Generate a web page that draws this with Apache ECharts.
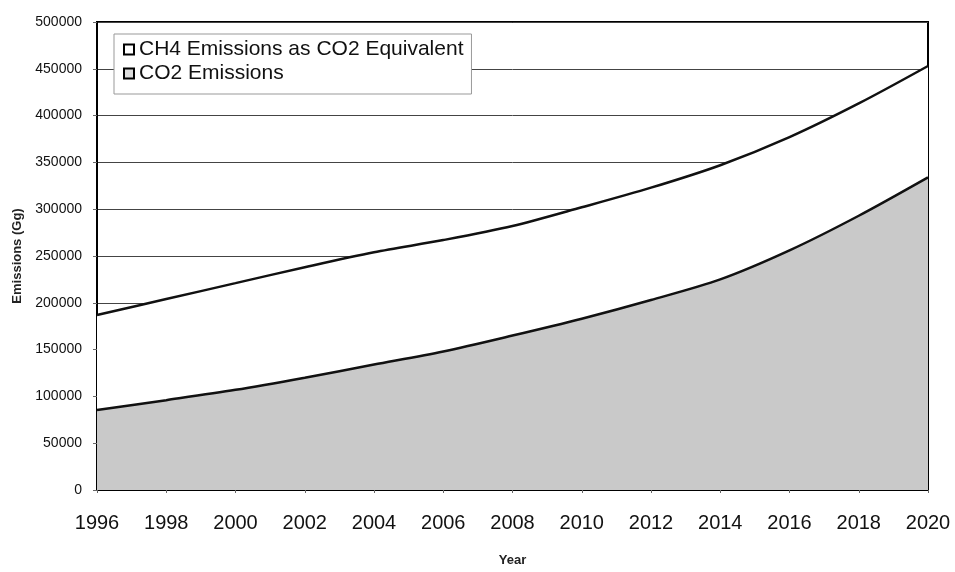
<!DOCTYPE html>
<html>
<head>
<meta charset="utf-8">
<script src="https://cdn.jsdelivr.net/npm/echarts@6/dist/echarts.min.js"></script>
<style>
html,body{margin:0;padding:0;background:#fff;}
#c{width:955px;height:572px;}
</style>
</head>
<body>
<div id="c"></div>
<script>
const years = ['1996','1998','2000','2002','2004','2006','2008','2010','2012','2014','2016','2018','2020'];
const co2Emissions = [85500, 96000, 107000, 120000, 134000, 148000, 165000, 183000, 203000, 225000, 256000, 293000, 334000];
const ch4AsCo2Eq = [101500, 108000, 114000, 118000, 120000, 119000, 117000, 119000, 120000, 122000, 121000, 120000, 119000];
const seriesNames = ['CH4 Emissions as CO2 Equivalent', 'CO2 Emissions'];

const FONT = 'Liberation Sans, Arial, sans-serif';
const chart = echarts.init(document.getElementById('c'), null, {renderer: 'canvas'});
chart.setOption({
  animation: false,
  backgroundColor: '#fff',
  grid: {left: 97, right: 27, top: 22, bottom: 82, show: true, borderColor: '#000', borderWidth: 2, backgroundColor: 'transparent'},
  legend: {
    left: 114, top: 34, orient: 'vertical',
    padding: [5, 8, 10, 9], itemGap: 3,
    backgroundColor: '#fff', borderColor: '#999', borderWidth: 1,
    itemWidth: 10, itemHeight: 10, icon: 'rect',
    textStyle: {fontFamily: FONT, fontSize: 21, color: '#111'},
    itemStyle: {borderColor: '#000', borderWidth: 2},
    data: [
      {name: seriesNames[0], itemStyle: {color: '#fff'}},
      {name: seriesNames[1], itemStyle: {color: '#ddd'}}
    ]
  },
  xAxis: {
    type: 'category', data: years, boundaryGap: false,
    name: 'Year', nameLocation: 'middle', nameGap: 64,
    nameTextStyle: {fontFamily: FONT, fontSize: 13, fontWeight: 'bold', color: '#222'},
    axisLine: {lineStyle: {color: '#000', width: 2}},
    axisTick: {show: true, length: 3, lineStyle: {color: '#666'}},
    axisLabel: {fontFamily: FONT, fontSize: 20, color: '#111', margin: 23}
  },
  yAxis: {
    type: 'value', min: 0, max: 500000, interval: 50000,
    name: 'Emissions (Gg)', nameLocation: 'middle', nameGap: 73, nameRotate: 90,
    nameTextStyle: {fontFamily: FONT, fontSize: 13, fontWeight: 'bold', color: '#222'},
    axisLine: {show: true, lineStyle: {color: '#000', width: 2}},
    axisTick: {show: true, length: 4, lineStyle: {color: '#666'}},
    axisLabel: {fontFamily: FONT, fontSize: 14, color: '#111', margin: 15, formatter: v => String(v)},
    splitLine: {show: true, lineStyle: {color: '#444', width: 1}}
  },
  series: [
    {
      name: seriesNames[1], type: 'line', stack: 'total', data: co2Emissions,
      smooth: 0.3, symbol: 'none',
      lineStyle: {color: '#111', width: 2.5},
      itemStyle: {color: '#ddd'},
      areaStyle: {color: '#c9c9c9', opacity: 1}
    },
    {
      name: seriesNames[0], type: 'line', stack: 'total', data: ch4AsCo2Eq,
      smooth: 0.3, symbol: 'none',
      lineStyle: {color: '#111', width: 2.5},
      itemStyle: {color: '#fff'},
      areaStyle: {color: '#fff', opacity: 1}
    }
  ]
});
</script>
</body>
</html>
